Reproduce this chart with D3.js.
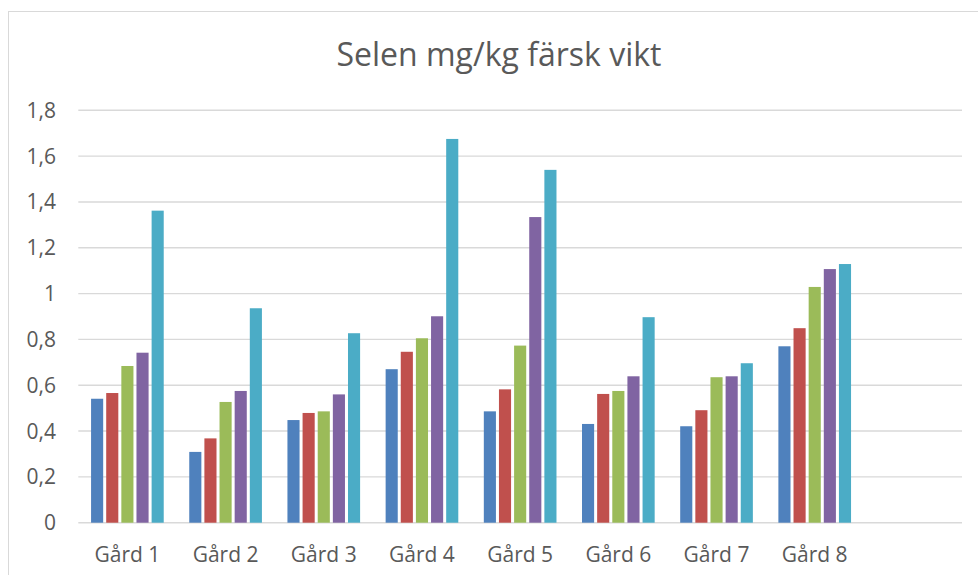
<!DOCTYPE html>
<html>
<head>
<meta charset="utf-8">
<script src="https://cdn.jsdelivr.net/npm/d3@7"></script>
<style>
  body { margin: 0; background: #fff; }
  text { font-family: "Open Sans", sans-serif; fill: #595959; }
</style>
</head>
<body>
<div id="chart"></div>
<script>
// DATA
// ---------------------------------------------------------------
const categories = ["Gård 1", "Gård 2", "Gård 3", "Gård 4", "Gård 5", "Gård 6", "Gård 7", "Gård 8", ""];
const seriesNames = ["S1", "S2", "S3", "S4", "S5"];
const s1 = [0.541, 0.309, 0.448, 0.670, 0.486, 0.431, 0.421, 0.770];
const s2 = [0.566, 0.368, 0.479, 0.746, 0.582, 0.562, 0.491, 0.849];
const s3 = [0.684, 0.527, 0.486, 0.805, 0.773, 0.575, 0.635, 1.029];
const s4 = [0.742, 0.575, 0.560, 0.901, 1.334, 0.639, 0.639, 1.107];
const s5 = [1.362, 0.936, 0.827, 1.675, 1.540, 0.897, 0.696, 1.129];
const yTicks = [0, 0.2, 0.4, 0.6, 0.8, 1, 1.2, 1.4, 1.6, 1.8];
const colors = ["#4f81bd", "#c0504d", "#9bbb59", "#8064a2", "#4bacc6"];

const series = [s1, s2, s3, s4, s5];

// LAYOUT
// ---------------------------------------------------------------
const width = 978, height = 575;
const plot = { left: 78.3, right: 962, top: 110.3, bottom: 522.7 };

const svg = d3.select("#chart").append("svg")
  .attr("width", width)
  .attr("height", height);

// chart border
svg.append("rect")
  .attr("x", 8.5).attr("y", 11.5)
  .attr("width", 1000).attr("height", 600)
  .attr("fill", "none")
  .attr("stroke", "#d9d9d9")
  .attr("stroke-width", 1);

const x = d3.scaleBand()
  .domain(categories.map((d, i) => i))
  .range([plot.left, plot.right])
  .paddingInner(0.26)
  .paddingOuter(0.13);

const xInner = d3.scaleBand()
  .domain(seriesNames)
  .range([0, x.bandwidth()])
  .paddingInner(0.2);

const y = d3.scaleLinear([0, 1.8], [plot.bottom, plot.top]);

// GRIDLINES
// ---------------------------------------------------------------
svg.append("g")
  .selectAll("line")
  .data(yTicks)
  .enter().append("line")
  .attr("x1", plot.left)
  .attr("x2", plot.right)
  .attr("y1", d => y(d))
  .attr("y2", d => y(d))
  .attr("stroke", "#d9d9d9")
  .attr("stroke-width", 1.4);

// Y TICK LABELS
svg.append("g")
  .selectAll("text")
  .data(yTicks)
  .enter().append("text")
  .attr("x", 56)
  .attr("y", d => y(d) + 7.5)
  .attr("text-anchor", "end")
  .style("font-size", "21px")
  .text(d => String(+d.toFixed(1)).replace(".", ","));

// BARS
// ---------------------------------------------------------------
series.forEach((vals, si) => {
  svg.append("g")
    .selectAll("rect")
    .data(vals)
    .enter().append("rect")
    .attr("x", (d, i) => x(i) + xInner(seriesNames[si]))
    .attr("width", xInner.bandwidth())
    .attr("y", d => y(d))
    .attr("height", d => y(0) - y(d))
    .attr("fill", colors[si]);
});

// X LABELS
svg.append("g")
  .selectAll("text")
  .data(categories)
  .enter().append("text")
  .attr("x", (d, i) => x(i) + x.bandwidth() / 2)
  .attr("y", 561.5)
  .attr("text-anchor", "middle")
  .style("font-size", "21px")
  .text(d => d);

// TITLE
svg.append("text")
  .attr("x", 499)
  .attr("y", 66)
  .attr("text-anchor", "middle")
  .style("font-size", "32px")
  .text("Selen mg/kg färsk vikt");
</script>
</body>
</html>
